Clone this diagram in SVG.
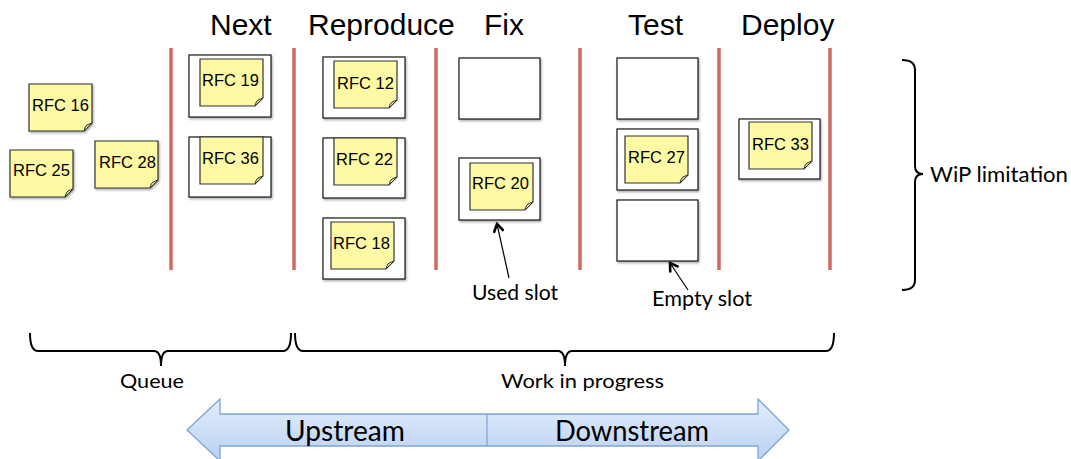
<svg xmlns="http://www.w3.org/2000/svg" width="1071" height="459" viewBox="0 0 1071 459">
<defs>
<style>
.h{font-family:"Liberation Sans",Arial,sans-serif;font-size:30px;fill:#000}
.r{font-family:"Liberation Sans",Arial,sans-serif;font-size:16.5px;fill:#000}
.c{font-family:Lato,"Open Sans",sans-serif;fill:#000}
.slot{fill:#fff;stroke:#1a1a1a;stroke-width:1.2;filter:url(#sh)}
.sep{stroke:#cf6a62;stroke-width:3.5}
.br{fill:none;stroke:#000;stroke-width:2}
.ptr{fill:none;stroke:#000;stroke-width:1.2;marker-end:url(#ah)}
</style>
<filter id="sh" x="-20%" y="-20%" width="140%" height="140%">
<feDropShadow dx="1" dy="1.5" stdDeviation="1.2" flood-color="#000" flood-opacity="0.35"/>
</filter>
<marker id="ah" viewBox="0 0 12 12" refX="10" refY="6" markerWidth="12" markerHeight="12" markerUnits="userSpaceOnUse" orient="auto">
<path d="M2,1 L10,6 L2,11" fill="none" stroke="#000" stroke-width="2.6"/>
</marker>
<linearGradient id="bg" x1="0" y1="0" x2="0" y2="1">
<stop offset="0" stop-color="#e3edfb"/>
<stop offset="1" stop-color="#b9d1f1"/>
</linearGradient>
<g id="sticky">
<path d="M0,0 H63 V39 L55,47 H0 Z" fill="#fdf9a4" stroke="#333" stroke-width="1.2"/>
<path d="M63,39 L55,47 Q56,42 58,41 Q60,40 63,39 Z" fill="#e6e0a0" stroke="#333" stroke-width="1"/>
</g>
</defs>

<g id="headings">
<text class="h" x="210" y="35">Next</text>
<text class="h" x="308" y="35">Reproduce</text>
<text class="h" x="484" y="35">Fix</text>
<text class="h" x="628" y="35">Test</text>
<text class="h" x="741" y="35">Deploy</text>
</g>

<g id="separators">
<line class="sep" x1="171" y1="48" x2="171" y2="270"/>
<line class="sep" x1="294" y1="48" x2="294" y2="270"/>
<line class="sep" x1="436" y1="48" x2="436" y2="270"/>
<line class="sep" x1="580" y1="48" x2="580" y2="270"/>
<line class="sep" x1="719" y1="48" x2="719" y2="270"/>
<line class="sep" x1="830" y1="48" x2="830" y2="270"/>
</g>

<g id="slots">
<rect class="slot" x="189" y="55" width="82" height="62"/>
<rect class="slot" x="189" y="137" width="82" height="60"/>
<rect class="slot" x="323" y="57" width="82" height="61"/>
<rect class="slot" x="323" y="138" width="82" height="60"/>
<rect class="slot" x="323" y="218" width="82" height="61"/>
<rect class="slot" x="459" y="58" width="81" height="61"/>
<rect class="slot" x="459" y="158" width="81" height="62"/>
<rect class="slot" x="617" y="58" width="81" height="61"/>
<rect class="slot" x="617" y="129" width="81" height="61"/>
<rect class="slot" x="617" y="200" width="81" height="61"/>
<rect class="slot" x="739" y="119" width="81" height="60"/>
</g>

<g id="rfc16"><use href="#sticky" x="29" y="84" filter="url(#sh)"/><text class="r" x="32" y="111">RFC 16</text></g>
<g id="rfc25"><use href="#sticky" x="10" y="150" filter="url(#sh)"/><text class="r" x="13" y="176">RFC 25</text></g>
<g id="rfc28"><use href="#sticky" x="95" y="141" filter="url(#sh)"/><text class="r" x="99" y="168">RFC 28</text></g>
<g id="rfc19"><use href="#sticky" x="200" y="59"/><text class="r" x="202" y="86">RFC 19</text></g>
<g id="rfc36"><use href="#sticky" x="200" y="137"/><text class="r" x="202" y="164">RFC 36</text></g>
<g id="rfc12"><use href="#sticky" x="334" y="61"/><text class="r" x="337" y="89">RFC 12</text></g>
<g id="rfc22"><use href="#sticky" x="334" y="138"/><text class="r" x="336" y="165">RFC 22</text></g>
<g id="rfc18"><use href="#sticky" x="331" y="222"/><text class="r" x="333" y="249">RFC 18</text></g>
<g id="rfc20"><use href="#sticky" x="470" y="163"/><text class="r" x="472" y="189">RFC 20</text></g>
<g id="rfc27"><use href="#sticky" x="625" y="136"/><text class="r" x="628" y="163">RFC 27</text></g>
<g id="rfc33"><use href="#sticky" x="749" y="122"/><text class="r" x="752" y="150">RFC 33</text></g>

<g id="connectors">
<line class="ptr" x1="509" y1="278" x2="497" y2="224"/>
<line class="ptr" x1="688" y1="290" x2="670" y2="263"/>
</g>

<g id="annotations">
<text class="c" x="472" y="300" font-size="20.5" textLength="86" lengthAdjust="spacingAndGlyphs">Used slot</text>
<text class="c" x="652" y="306" font-size="20.5" textLength="100" lengthAdjust="spacingAndGlyphs">Empty slot</text>
<path class="br" d="M902,60 Q915,60 915,70 V166 Q915,174 923,174 Q915,174 915,182 V280 Q915,290 902,290"/>
<text class="c" x="930" y="182" font-size="22" textLength="138" lengthAdjust="spacingAndGlyphs">WiP limitation</text>
<path class="br" d="M30,333 Q30,351 38,351 H154 Q161,351 161,366 Q161,351 168,351 H283 Q291,351 291,333"/>
<path class="br" d="M295,333 Q295,351 303,351 H558 Q565,351 565,366 Q565,351 572,351 H826 Q834,351 834,333"/>
<text class="c" x="120" y="388" font-size="19.5" textLength="64" lengthAdjust="spacingAndGlyphs">Queue</text>
<text class="c" x="501" y="388" font-size="19.5" textLength="163" lengthAdjust="spacingAndGlyphs">Work in progress</text>
</g>

<g id="flow">
<path d="M187,430 L220,399 V414 H758 V399 L789,430 L758,461 V446 H220 V461 Z" fill="url(#bg)" stroke="#7ea4d6" stroke-width="1.3"/>
<line x1="487" y1="414" x2="487" y2="446" stroke="#7ea4d6" stroke-width="1.2"/>
<text class="c" x="285" y="441" font-size="28" textLength="120" lengthAdjust="spacingAndGlyphs">Upstream</text>
<text class="c" x="555" y="441" font-size="28" textLength="154" lengthAdjust="spacingAndGlyphs">Downstream</text>
</g>
</svg>
